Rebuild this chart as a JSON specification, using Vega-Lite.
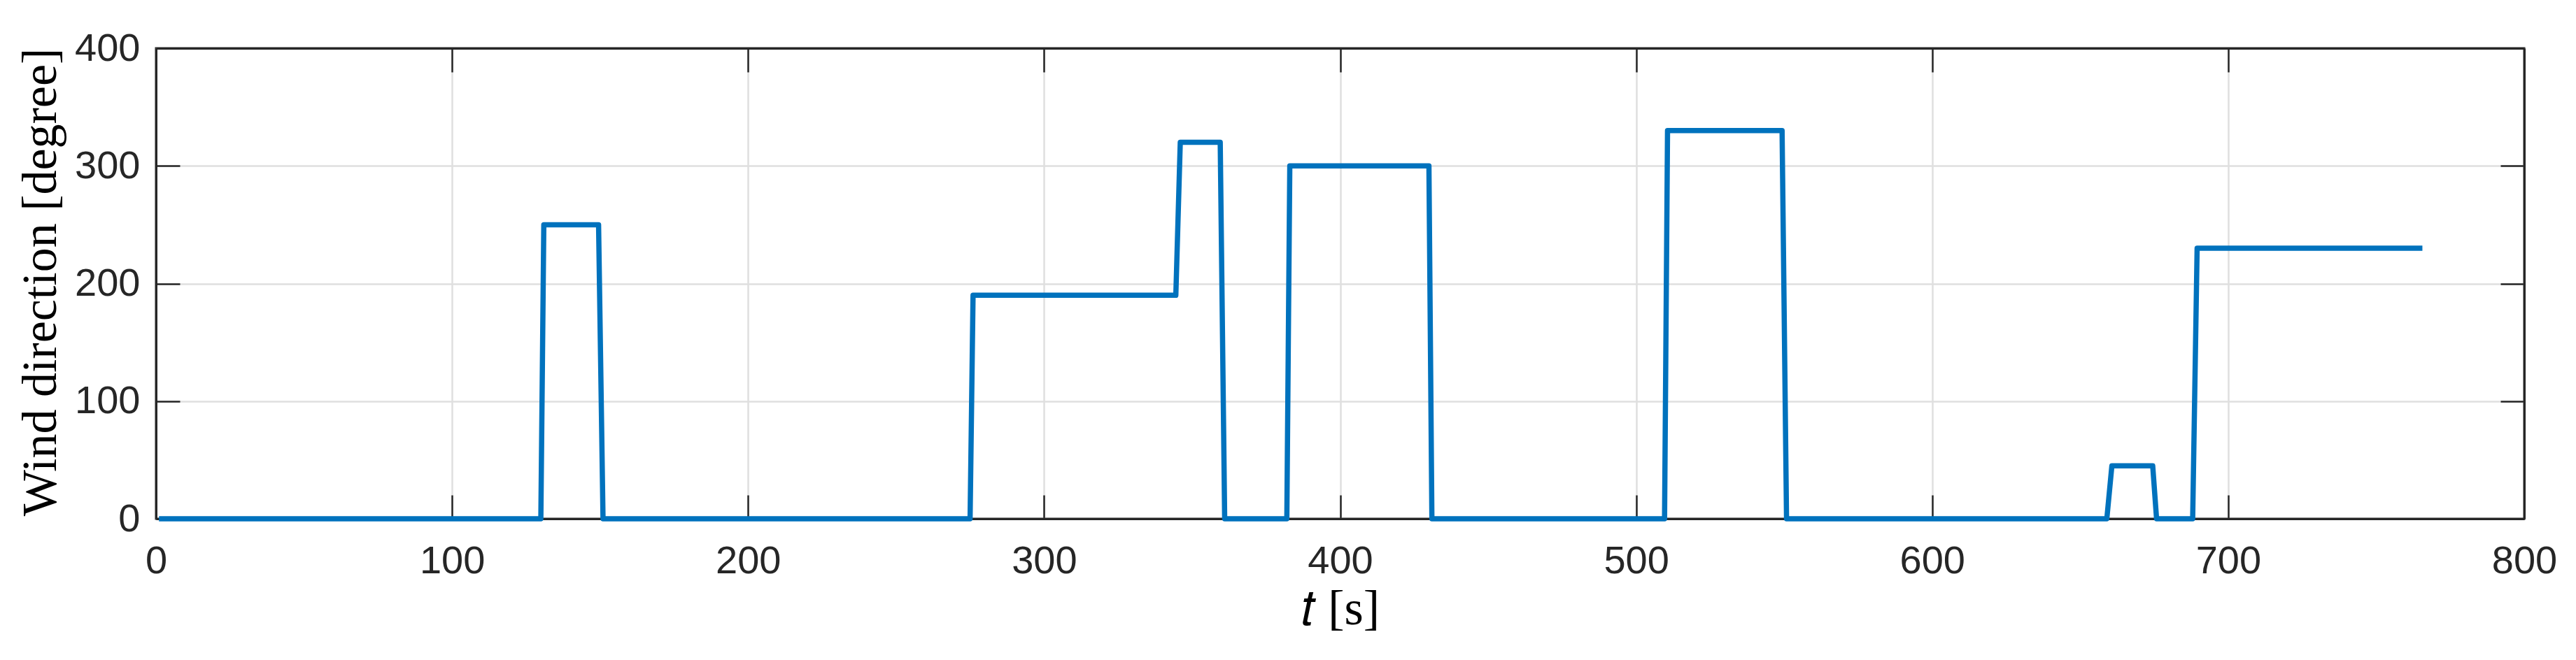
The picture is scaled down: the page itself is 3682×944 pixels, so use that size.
{
  "$schema": "https://vega.github.io/schema/vega-lite/v6.json",
  "width": 3385,
  "height": 673,
  "autosize": {"type": "none"},
  "padding": {"left": 223, "top": 69, "right": 74, "bottom": 202},
  "background": "white",
  "config": {
    "view": {"stroke": "#262626", "strokeWidth": 3},
    "axis": {
      "domainColor": "#262626",
      "domainWidth": 3,
      "tickColor": "#262626",
      "tickWidth": 2.5,
      "tickSize": -34,
      "labelFont": "Liberation Sans",
      "labelFontSize": 56,
      "labelColor": "#262626",
      "labelFlush": false,
      "labelOverlap": false,
      "gridColor": "#dfdfdf",
      "gridWidth": 2.5,
      "titleFont": "Liberation Serif",
      "titleFontSize": 70,
      "titleFontWeight": "normal",
      "titleColor": "black"
    }
  },
  "data": {
    "values": [
      {"t": 1, "dir": 0},
      {"t": 130, "dir": 0},
      {"t": 131, "dir": 250},
      {"t": 149.5, "dir": 250},
      {"t": 151, "dir": 0},
      {"t": 275, "dir": 0},
      {"t": 276, "dir": 190},
      {"t": 344.5, "dir": 190},
      {"t": 346, "dir": 320},
      {"t": 359.5, "dir": 320},
      {"t": 361, "dir": 0},
      {"t": 382, "dir": 0},
      {"t": 383, "dir": 300},
      {"t": 430, "dir": 300},
      {"t": 431, "dir": 0},
      {"t": 509.6, "dir": 0},
      {"t": 510.6, "dir": 330},
      {"t": 549.3, "dir": 330},
      {"t": 550.8, "dir": 0},
      {"t": 659, "dir": 0},
      {"t": 660.7, "dir": 45},
      {"t": 674.5, "dir": 45},
      {"t": 675.8, "dir": 0},
      {"t": 688, "dir": 0},
      {"t": 689.5, "dir": 230},
      {"t": 765.6, "dir": 230}
    ]
  },
  "layer": [
    {
      "mark": {"type": "line", "color": "#0072BD", "strokeWidth": 7.5, "strokeJoin": "round", "strokeCap": "butt"},
      "encoding": {
        "x": {
          "field": "t", "type": "quantitative",
          "scale": {"domain": [0, 800], "nice": false},
          "axis": {
            "orient": "bottom",
            "values": [0, 100, 200, 300, 400, 500, 600, 700, 800],
            "labelPadding": 67,
            "title": "𝑡 [s]",
            "titleX": 1692.5, "titleY": 129,
            "titleAlign": "center", "titleBaseline": "middle", "titleAnchor": null
          }
        },
        "y": {
          "field": "dir", "type": "quantitative",
          "scale": {"domain": [0, 400], "nice": false},
          "axis": {
            "orient": "left",
            "values": [0, 100, 200, 300, 400],
            "labelPadding": 57,
            "title": "Wind direction [degree]",
            "titleX": -165, "titleY": 334, "titleAngle": -90,
            "titleAlign": "center", "titleBaseline": "middle", "titleAnchor": null
          }
        }
      }
    },
    {
      "mark": {"type": "line", "opacity": 0},
      "encoding": {
        "x": {
          "field": "t", "type": "quantitative",
          "scale": {"domain": [0, 800], "nice": false},
          "axis": {"orient": "top", "values": [0, 100, 200, 300, 400, 500, 600, 700, 800], "labels": false, "grid": false, "title": null}
        },
        "y": {
          "field": "dir", "type": "quantitative",
          "scale": {"domain": [0, 400], "nice": false},
          "axis": {"orient": "right", "values": [0, 100, 200, 300, 400], "labels": false, "grid": false, "title": null}
        }
      }
    }
  ],
  "resolve": {"axis": {"x": "independent", "y": "independent"}}
}
